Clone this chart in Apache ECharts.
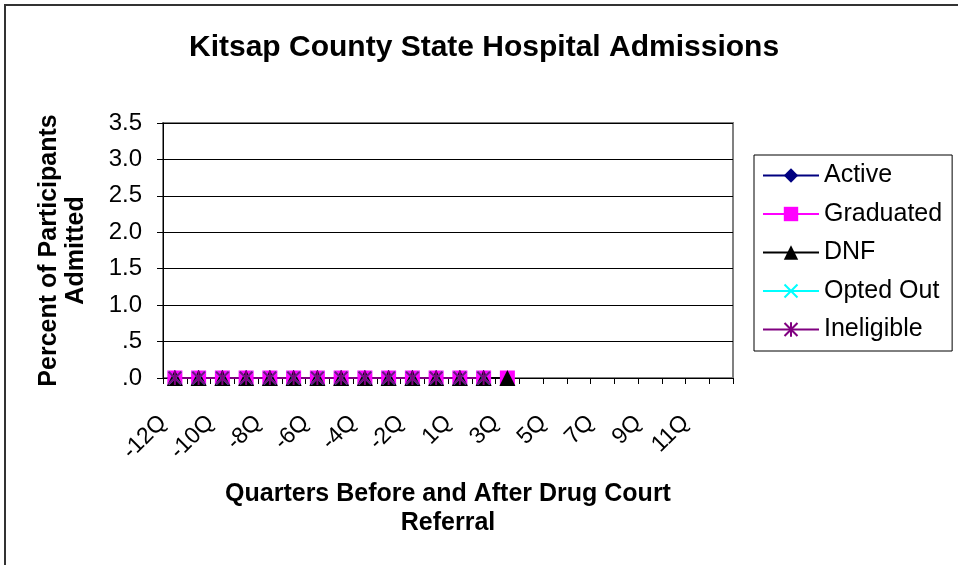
<!DOCTYPE html>
<html>
<head>
<meta charset="utf-8">
<script src="https://cdn.jsdelivr.net/npm/echarts@6/dist/echarts.min.js"></script>
<style>
  html, body { margin: 0; padding: 0; background: #fff; }
  #chart { width: 958px; height: 565px; }
</style>
</head>
<body>
<div id="chart"></div>
<script>
// quarters before / after referral (no 0Q)
const quarters = ['-12Q','-11Q','-10Q','-9Q','-8Q','-7Q','-6Q','-5Q','-4Q','-3Q','-2Q','-1Q',
                  '1Q','2Q','3Q','4Q','5Q','6Q','7Q','8Q','9Q','10Q','11Q','12Q'];
const yTicks = [0, 0.5, 1.0, 1.5, 2.0, 2.5, 3.0, 3.5];

// percent admitted, -12Q .. 2Q / 3Q
const activeVals     = [0,0,0,0,0,0,0,0,0,0,0,0,0,0];
const graduatedVals  = [0,0,0,0,0,0,0,0,0,0,0,0,0,0,0];
const dnfVals        = [0,0,0,0,0,0,0,0,0,0,0,0,0,0,0];
const optedOutVals   = [0,0,0,0,0,0,0,0,0,0,0,0,0,0];
const ineligibleVals = [0,0,0,0,0,0,0,0,0,0,0,0,0,0];

const FONT = "Arial, 'Liberation Sans', sans-serif";
const xPath = 'path://M0,1 L1,0 L10,9 L9,10 Z M9,0 L10,1 L1,10 L0,9 Z';
const starPath = 'path://M0,1 L1,0 L10,9 L9,10 Z M9,0 L10,1 L1,10 L0,9 Z M4.3,0 L5.7,0 L5.7,10 L4.3,10 Z';

function mkSeries(name, data, color, symbol, size) {
    return {
        name: name,
        type: 'line',
        data: data,
        symbol: symbol,
        symbolSize: size,
        showAllSymbol: true,
        color: color,
        lineStyle: { color: color, width: 2 },
        itemStyle: { color: color },
        animation: false
    };
}

let myChart = echarts.init(document.getElementById('chart'));
let option = {
    backgroundColor: '#fff',
    title: {
        text: 'Kitsap County State Hospital Admissions',
        left: 184,
        top: 28,
        textStyle: { fontFamily: FONT, fontSize: 30, fontWeight: 'bold', color: '#000' }
    },
    legend: {
        orient: 'vertical',
        left: 754,
        top: 155,
        padding: [8, 10, 9, 8],
        borderColor: '#000',
        borderWidth: 1,
        itemWidth: 56,
        itemHeight: 18,
        itemGap: 13.5,
        lineStyle: { width: 2 },
        textStyle: { fontFamily: FONT, fontSize: 25, color: '#000', lineHeight: 25 },
        data: ['Active', 'Graduated', 'DNF', 'Opted Out', 'Ineligible']
    },
    grid: {
        left: 163, right: 225, top: 123, bottom: 187,
        show: true, borderColor: '#808080', borderWidth: 2
    },
    xAxis: {
        type: 'category',
        data: quarters,
        boundaryGap: true,
        name: 'Quarters Before and After Drug Court\nReferral',
        nameLocation: 'middle',
        nameGap: 102,
        nameTextStyle: { fontFamily: FONT, fontSize: 25, fontWeight: 'bold', color: '#000', lineHeight: 29 },
        axisLine: { lineStyle: { color: '#000', width: 1 } },
        axisTick: { show: true, interval: 0, length: 6, lineStyle: { color: '#000' } },
        axisLabel: {
            interval: 1, rotate: 45, margin: 29, align: 'right', verticalAlign: 'middle',
            padding: [0, 17, 0, 0],
            fontFamily: FONT, fontSize: 23, color: '#000'
        },
        splitLine: { show: false }
    },
    yAxis: {
        type: 'value',
        min: yTicks[0],
        max: yTicks[yTicks.length - 1],
        interval: 0.5,
        name: 'Percent of Participants\nAdmitted',
        nameLocation: 'middle',
        nameRotate: 90,
        nameGap: 73,
        nameTextStyle: { fontFamily: FONT, fontSize: 25, fontWeight: 'bold', color: '#000', lineHeight: 27 },
        axisLine: { show: true, lineStyle: { color: '#000', width: 1 } },
        axisTick: { show: true, length: 6, lineStyle: { color: '#000' } },
        axisLabel: {
            margin: 21, fontFamily: FONT, fontSize: 24, color: '#000',
            formatter: function (v) { return v < 1 ? v.toFixed(1).replace(/^0/, '') : v.toFixed(1); }
        },
        splitLine: { show: true, lineStyle: { color: '#000', width: 1 } }
    },
    graphic: [{
        type: 'rect',
        silent: true,
        shape: { x: 5, y: 5, width: 1200, height: 1200 },
        style: { fill: 'none', stroke: '#333', lineWidth: 2 }
    }],
    series: [
        mkSeries('Active', activeVals, '#000080', 'diamond', 16),
        mkSeries('Graduated', graduatedVals, '#FF00FF', 'rect', 15),
        mkSeries('DNF', dnfVals, '#000000', 'triangle', 16),
        mkSeries('Opted Out', optedOutVals, '#00FFFF', xPath, 14),
        mkSeries('Ineligible', ineligibleVals, '#800080', starPath, 14)
    ]
};
option && myChart.setOption(option);
</script>
</body>
</html>
